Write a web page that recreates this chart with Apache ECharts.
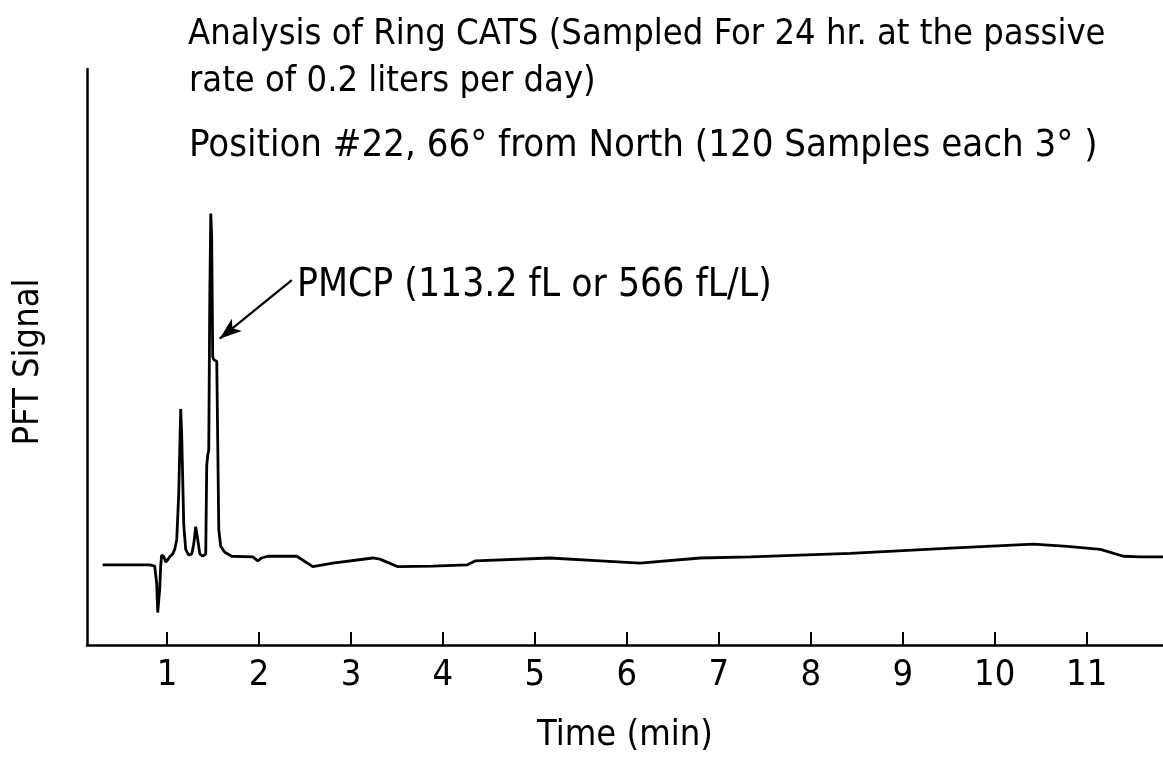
<!DOCTYPE html>
<html><head><meta charset="utf-8">
<script src="https://cdn.jsdelivr.net/npm/echarts@6/dist/echarts.min.js"></script>
<style>html,body{margin:0;padding:0;background:#fff}#c{width:1163px;height:759px}</style>
</head><body><div id="c"></div>
<script>
const FONT = '"Liberation Sans Narrow","DejaVu Sans Condensed","Liberation Sans",sans-serif';
const titleLines = [
  'Analysis of Ring CATS (Sampled For 24 hr. at the passive',
  'rate of 0.2 liters per day)',
  'Position #22, 66\u00B0 from North (120 Samples each 3\u00B0 )'
];
const xAxisName = 'Time (min)';
const yAxisName = 'PFT Signal';
const annotationText = 'PMCP (113.2 fL or 566 fL/L)';
const xTicks = [1,2,3,4,5,6,7,8,9,10,11];
const times = [0.300,0.812,0.866,0.888,0.899,0.921,0.931,0.942,0.964,0.986,1.008,1.029,1.062,1.084,1.106,1.127,1.149,1.160,1.182,1.203,1.236,1.269,1.291,1.312,1.334,1.356,1.389,1.421,1.432,1.443,1.454,1.465,1.476,1.486,1.497,1.508,1.541,1.552,1.563,1.584,1.628,1.704,1.933,1.987,2.030,2.096,2.411,2.585,2.803,3.238,3.315,3.511,3.892,4.262,4.349,5.165,5.709,6.144,6.797,7.341,8.429,9.517,10.420,10.790,11.149,11.399,11.584,11.834];
const signal = [13.8,13.8,13.6,10.6,5.6,9.7,13.6,15.5,15.3,14.3,14.7,15.2,15.7,16.5,18.2,25.9,40.7,36.1,20.8,16.5,15.5,15.7,17.4,20.4,18.2,15.7,15.3,15.7,31.0,32.7,33.6,60.0,74.4,70.2,49.7,49.2,48.9,34.4,19.9,17.0,16.0,15.3,15.2,14.5,15.0,15.3,15.3,13.5,14.1,15.0,14.8,13.5,13.6,13.8,14.5,15.0,14.5,14.1,15.0,15.2,15.8,16.7,17.4,17.0,16.5,15.3,15.2,15.2];
const arrowFrom = [2.357, 62.9];
const arrowTo = [1.573, 52.8];

const chart = echarts.init(document.getElementById('c'), null, {renderer:'canvas'});
const data = times.map((t,i)=>[t, signal[i]]);
chart.setOption({
  animation:false,
  backgroundColor:'#fff',
  grid:{left:87, right:0, top:69, bottom:106.5, containLabel:false},
  xAxis:{type:'value', min:0.130, max:11.83,
    axisLine:{show:true, lineStyle:{color:'#000', width:2.5}},
    axisTick:{show:true, inside:true, length:13, customValues:xTicks, lineStyle:{color:'#000', width:2}},
    axisLabel:{show:true, customValues:xTicks, color:'#000', fontSize:36, fontFamily:FONT, margin:13},
    splitLine:{show:false},
    name:xAxisName, nameLocation:'middle', nameGap:73,
    nameTextStyle:{color:'#000', fontSize:36, fontFamily:FONT}
  },
  yAxis:{type:'value', min:0, max:99.3,
    axisLine:{show:true, lineStyle:{color:'#000', width:2.5}},
    axisTick:{show:false}, axisLabel:{show:false}, splitLine:{show:false}
  },
  graphic:[
    {type:'text', x:188, y:35, style:{text:titleLines[0], fill:'#000', font:'36px '+FONT, verticalAlign:'middle'}},
    {type:'text', x:189, y:82, style:{text:titleLines[1], fill:'#000', font:'36px '+FONT, verticalAlign:'middle'}},
    {type:'text', x:189, y:146, style:{text:titleLines[2], fill:'#000', font:'38px '+FONT, verticalAlign:'middle'}},
    {type:'text', x:297, y:286, style:{text:annotationText, fill:'#000', font:'38.7px '+FONT, verticalAlign:'middle'}},
    {type:'text', x:29, y:362, rotation:Math.PI/2, style:{text:yAxisName, fill:'#000', font:'36px '+FONT, align:'center', verticalAlign:'middle'}}
  ],
  series:[{
    type:'line', data:data, showSymbol:false, symbol:'none',
    lineStyle:{color:'#000', width:2.8}, smooth:false,
    markLine:{silent:true, symbol:['none','arrow'], symbolSize:[12,22],
      lineStyle:{color:'#000', width:2.2, type:'solid'}, label:{show:false},
      data:[[{coord:arrowFrom},{coord:arrowTo}]]}
  }]
});
</script></body></html>
